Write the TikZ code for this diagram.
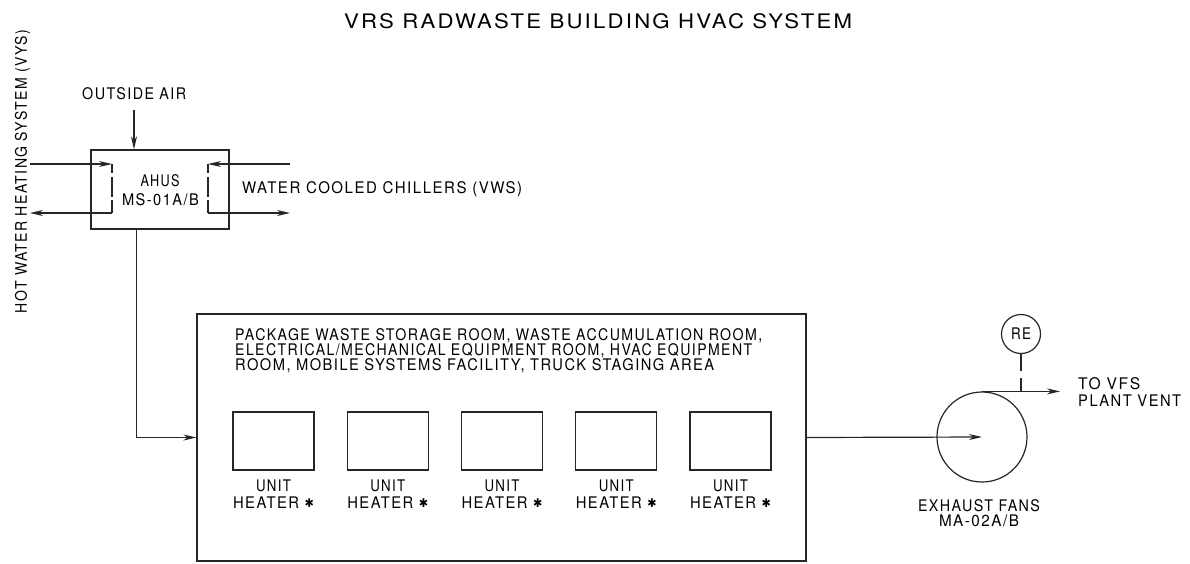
\documentclass[tikz,border=0pt]{standalone}
\usepackage{fontspec}
\usepackage{graphicx}
\setmainfont{TeX Gyre Heros}[LetterSpace=10]
\newfontfamily\djv{DejaVu Sans}
\usetikzlibrary{arrows.meta}
\newcommand\fitw[2]{\resizebox{#1pt}{\height}{#2}}
\newcommand\cadstar{\raisebox{1pt}{\djv\fontsize{12}{12}\selectfont ✱}}
\begin{document}
\begin{tikzpicture}[x=1pt,y=-1pt,
  ln/.style={line width=1.2pt, draw=black!85},
  arr/.style={ln, -{Stealth[length=13pt,width=6pt,inset=4pt]}},
  box/.style={ln, draw, rectangle, inner sep=0pt},
  ring/.style={ln, draw, circle, inner sep=0pt},
  dsh/.style={ln, dash pattern=on 9pt off 4pt on 20pt off 3pt on 13pt},
  txt/.style={inner sep=0pt, font=\fontsize{16}{16}\selectfont},
  ttl/.style={inner sep=0pt, font=\fontsize{20}{20}\selectfont}]
\useasboundingbox (0,0) rectangle (1190,563);

% title
\node[ttl, anchor=base] (title) at (598,28) {\fitw{508}{VRS RADWASTE BUILDING HVAC SYSTEM}};

% AHU
\node[box, minimum width=138pt, minimum height=79pt] (ahu) at (160,189.5) {};
\node[txt, anchor=base] (ahu1) at (160,186) {\fitw{39}{AHUS}};
\node[txt, anchor=base] (ahu2) at (160.5,205) {\fitw{77}{MS-01A/B}};

\node[txt, anchor=base west] (oalbl) at (82,99) {\fitw{104}{OUTSIDE AIR}};
\coordinate (oa) at (134,110);
\draw[arr] (oa) -- (oa |- ahu.north);

\node[txt, rotate=90, anchor=base] (hwlbl) at (27,171.5) {\fitw{283}{HOT WATER HEATING SYSTEM (VYS)}};
\coordinate (hwin) at (30,164);
\coordinate (hwa) at (112,164);
\coordinate (hwb) at (112,213);
\coordinate (hwout) at (30,213);
\draw[arr] (hwin) -- (hwa);
\draw[dsh] (hwa) -- (hwb);
\draw[arr] (hwb) -- (hwout);

\node[txt, anchor=base west] (cwlbl) at (242,193) {\fitw{280}{WATER COOLED CHILLERS (VWS)}};
\coordinate (cwin) at (290,164);
\coordinate (cwa) at (208,164);
\coordinate (cwb) at (208,213);
\coordinate (cwout) at (290,213);
\draw[arr] (cwin) -- (cwa);
\draw[dsh] (cwa) -- (cwb);
\draw[arr] (cwb) -- (cwout);

% building area
\node[box, minimum width=609pt, minimum height=247pt] (big) at (501.5,437.5) {};
\node[txt, anchor=base west] (area1) at (235,340) {\fitw{527}{PACKAGE WASTE STORAGE ROOM, WASTE ACCUMULATION ROOM,}};
\node[txt, anchor=base west] (area2) at (235,355) {\fitw{517}{ELECTRICAL/MECHANICAL EQUIPMENT ROOM, HVAC EQUIPMENT}};
\node[txt, anchor=base west] (area3) at (235,370) {\fitw{479}{ROOM, MOBILE SYSTEMS FACILITY, TRUCK STAGING AREA}};

\foreach \i in {0,...,4} {
  \node[box, minimum width=81pt, minimum height=58pt] (h\i) at ({273.5+114.25*\i},441) {};
  \node[txt, anchor=base] (hu\i) at ({273.5+114.25*\i},491) {\fitw{35}{UNIT}};
  \node[txt, anchor=base] (hh\i) at ({273.5+114.25*\i},508) {\fitw{81}{HEATER \cadstar}};
}

\coordinate (sd) at (136.5,229);
\draw[arr] (sd) |- (big.west);

% exhaust
\node[ring, minimum size=90pt] (fan) at (982,437) {};
\draw[arr] (big.east) -- (fan.center);
\node[txt, anchor=base] (fan1) at (979,511) {\fitw{122}{EXHAUST FANS}};
\node[txt, anchor=base] (fan2) at (979,526) {\fitw{80}{MA-02A/B}};

\coordinate (vent) at (1060,392);
\draw[arr] (fan.north) -- (fan.north -| vent);
\node[txt, anchor=base west] (vent1) at (1078,389) {\fitw{62}{TO VFS}};
\node[txt, anchor=base west] (vent2) at (1078,406) {\fitw{103}{PLANT VENT}};

\node[ring, minimum size=39pt, font=\fontsize{16}{16}\selectfont] (re) at (1021,334) {\fitw{20}{RE}};
\draw[ln, dash pattern=on 17pt off 7pt on 20pt] (re.south) -- (re.south |- fan.north);
\end{tikzpicture}
\end{document}
